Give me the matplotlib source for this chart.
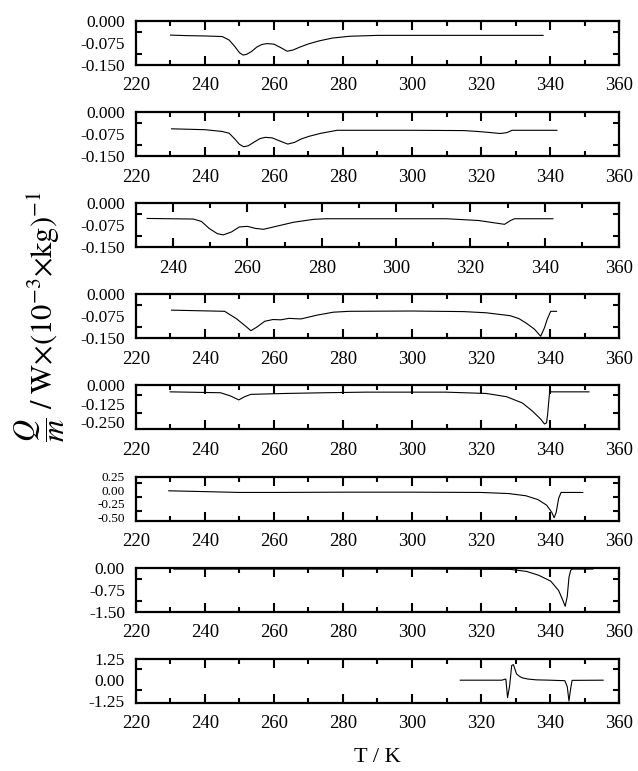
import matplotlib
matplotlib.use("Agg")
import matplotlib.pyplot as plt
from matplotlib.ticker import FixedLocator, MultipleLocator, FormatStrFormatter

plt.rcParams["font.family"] = ["Liberation Serif", "DejaVu Serif"]
plt.rcParams["mathtext.fontset"] = "stix"
plt.rcParams["axes.unicode_minus"] = False

# ------------------------------------------------------------
# data (T in K, Q/m)
# ------------------------------------------------------------
T1 = [230, 235, 240, 245, 247, 248.5, 250, 251, 252, 253.5, 255, 256.5, 258, 260, 262,
      263.8, 265.5, 267.5, 270, 273, 277, 282, 290, 310, 325, 338]
Q1 = [-0.048, -0.050, -0.051, -0.053, -0.065, -0.085, -0.108, -0.116, -0.114, -0.104,
      -0.089, -0.080, -0.077, -0.079, -0.091, -0.103, -0.099, -0.089, -0.078, -0.068,
      -0.058, -0.052, -0.049, -0.049, -0.049, -0.049]

T2 = [230.3, 240, 245, 247, 248.5, 250, 251.2, 252.5, 254, 256, 257.5, 259.5, 262, 264,
      266, 267.8, 270, 273.7, 278.3, 285, 300, 315, 319, 322, 325.6, 327.5, 329, 335, 342]
Q2 = [-0.057, -0.060, -0.066, -0.072, -0.090, -0.110, -0.118, -0.115, -0.104, -0.090,
      -0.086, -0.088, -0.100, -0.109, -0.103, -0.092, -0.083, -0.072, -0.062, -0.062,
      -0.062, -0.063, -0.066, -0.069, -0.073, -0.070, -0.062, -0.062, -0.062]

T3 = [233, 245.4, 247.6, 249.7, 251.9, 253.5, 255.7, 257.8, 260, 262.2, 264.3, 267,
      272.4, 277.8, 281, 313.5, 322.2, 326.5, 329.2, 330.8, 331.9, 342.2]
Q3 = [-0.052, -0.054, -0.062, -0.086, -0.104, -0.108, -0.098, -0.081, -0.079, -0.086,
      -0.089, -0.081, -0.065, -0.055, -0.053, -0.053, -0.059, -0.067, -0.072, -0.059,
      -0.053, -0.053]

T4 = [230.3, 245.7, 249.2, 251.5, 253.3, 255, 257.3, 259.7, 262, 264.3, 267.8, 272.5,
      277.2, 281.8, 300, 315, 321.5, 328.5, 331, 333.2, 335.5, 337.3, 338.4, 339.2,
      340.2, 341.9]
Q4 = [-0.054, -0.058, -0.084, -0.106, -0.124, -0.112, -0.092, -0.086, -0.087, -0.082,
      -0.084, -0.071, -0.061, -0.058, -0.057, -0.059, -0.063, -0.073, -0.083, -0.099,
      -0.119, -0.143, -0.114, -0.085, -0.058, -0.058]

T5 = [229.9, 244.5, 247.4, 249.8, 251.5, 253.3, 263.2, 274.8, 286.5, 309.8, 321.5,
      327.4, 332, 334.9, 337.3, 338.4, 339.0, 339.3, 339.6, 339.9, 351.3]
Q5 = [-0.044, -0.050, -0.072, -0.099, -0.077, -0.061, -0.055, -0.050, -0.046, -0.046,
      -0.055, -0.077, -0.120, -0.175, -0.230, -0.263, -0.255, -0.200, -0.120, -0.044,
      -0.044]

T6 = [229.5, 240, 250, 260, 280, 300, 320, 328, 333, 336.5, 339, 340.5, 341.2, 341.8,
      342.5, 343.2, 349.5]
Q6 = [-0.01, -0.025, -0.04, -0.04, -0.035, -0.035, -0.04, -0.06, -0.10, -0.17, -0.27,
      -0.40, -0.50, -0.40, -0.15, -0.04, -0.04]

T7 = [231, 260, 300, 328.5, 333.2, 336.7, 340.2, 342.5, 343.7, 344.4, 345, 345.5, 346,
      346.5, 352.4]
Q7 = [-0.05, -0.05, -0.05, -0.06, -0.13, -0.26, -0.46, -0.78, -1.11, -1.32, -0.98,
      -0.33, -0.09, -0.05, -0.05]

T8 = [314, 326, 327.2, 327.7, 328.3, 328.9, 329.4, 330.3, 331.2, 332, 333.5, 336, 340,
      344.3, 345, 345.5, 346, 346.4, 355.4]
Q8 = [-0.02, -0.02, 0.05, -1.05, -0.35, 0.85, 0.90, 0.35, 0.20, 0.12, 0.05, 0.0, -0.02,
      -0.05, -0.40, -1.25, -0.50, -0.03, -0.02]

# per panel: x range, y range, labelled y ticks, label format
XLIMS = [(220, 360), (220, 360), (230, 360), (220, 360),
         (220, 360), (220, 360), (220, 360), (220, 360)]
YLIMS = [(-0.15, 0.0), (-0.15, 0.0), (-0.15, 0.0), (-0.15, 0.0),
         (-0.30, 0.0), (-0.55, 0.25), (-1.5, 0.0), (-1.35, 1.25)]
YTICKS = [[0.0, -0.075, -0.15], [0.0, -0.075, -0.15], [0.0, -0.075, -0.15],
          [0.0, -0.075, -0.15], [0.0, -0.125, -0.25], [0.25, 0.0, -0.25, -0.5],
          [0.0, -0.75, -1.5], [1.25, 0.0, -1.25]]
YFMT = ["%.3f", "%.3f", "%.3f", "%.3f", "%.3f", "%.2f", "%.2f", "%.2f"]

series = [(T1, Q1), (T2, Q2), (T3, Q3), (T4, Q4), (T5, Q5), (T6, Q6), (T7, Q7), (T8, Q8)]

W, H = 638.0, 771.0
left_px, right_px = 136, 619

fig = plt.figure(figsize=(W / 100, H / 100), dpi=100)

for i, (t, q) in enumerate(series):
    bottom_px = 65 + 91.1 * i
    ax = fig.add_axes([left_px / W, 1 - bottom_px / H, (right_px - left_px) / W, 44 / H])
    ax.plot(t, q, color="black", lw=0.8)

    ax.set_xlim(XLIMS[i])
    ax.set_ylim(YLIMS[i])
    first = XLIMS[i][0] + (-XLIMS[i][0]) % 20
    ax.set_xticks(list(range(first, 361, 20)))
    ax.xaxis.set_minor_locator(MultipleLocator(10))

    yt = YTICKS[i]
    ax.set_yticks(yt)
    ax.yaxis.set_minor_locator(FixedLocator([(a + b) / 2 for a, b in zip(yt[:-1], yt[1:])]))
    ax.yaxis.set_major_formatter(FormatStrFormatter(YFMT[i]))

    ax.tick_params(axis="both", which="both", direction="in", top=True, right=True,
                   width=1.5, color="black")
    ax.tick_params(axis="x", which="major", length=6.5, labelsize=13.5, pad=9)
    ax.tick_params(axis="x", which="minor", length=3.5)
    ax.tick_params(axis="y", which="major", length=0,
                   labelsize=12.5 if len(yt) == 3 else 9.5, pad=8)
    ax.tick_params(axis="y", which="minor", length=4.5)
    for s in ax.spines.values():
        s.set_linewidth(1.6)

fig.text(40 / W, 1 - 317 / H,
         r"$\dfrac{Q}{m}\ /\ \mathrm{W}{\times}(10^{-3}{\times}\mathrm{kg})^{-1}$",
         rotation=90, ha="center", va="center", fontsize=22)
fig.text(377 / W, 1 - 757 / H, "T / K", ha="center", va="center", fontsize=16)

fig.savefig("out.png", dpi=100)
